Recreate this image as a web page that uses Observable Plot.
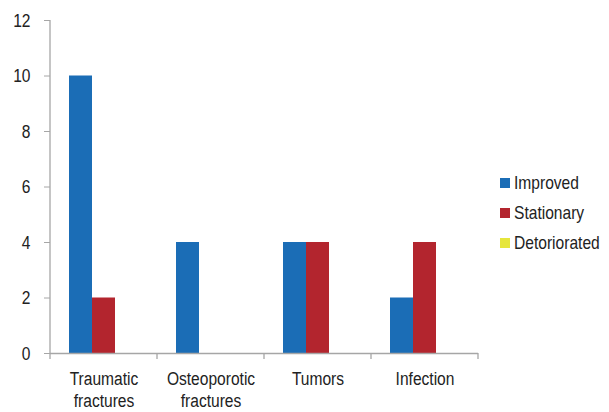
<!DOCTYPE html>
<html><head><meta charset="utf-8">
<script src="https://cdn.jsdelivr.net/npm/d3@7"></script>
<script src="https://cdn.jsdelivr.net/npm/@observablehq/plot@0.6"></script>
<style>
body{margin:0;background:#fff;}
#wrap{position:relative;width:609px;height:412px;font-family:"Liberation Sans",Arial,sans-serif;}
#legend{position:absolute;left:500px;top:168px;font-size:19px;color:#222;}
.item{display:flex;align-items:center;height:30px;}
.sw{width:10px;height:10px;margin-right:4px;}
.item span{display:inline-block;transform:scaleX(0.82);transform-origin:left center;}
</style></head><body><div id="wrap"><div id="legend"></div></div>
<script>
const categories = ["Traumatic fractures","Osteoporotic fractures","Tumors","Infection"];
const series = ["Improved","Stationary","Detoriorated"];
const improved = [10,4,4,2];
const stationary = [2,0,4,4];
const detoriorated = [0,0,0,0];
const colors = ["#1b6db6","#b3252e","#e6e63c"];
const yTicks = [0,2,4,6,8,10,12];

const values = [improved, stationary, detoriorated];
const data = categories.flatMap((c,i)=>series.map((s,j)=>({cat:c, series:s, value:values[j][i]})));
const FONT = '"Liberation Sans",Arial,sans-serif';
const AX = "#a6a6a6";

const plot = Plot.plot({
  width:609, height:412, marginLeft:50, marginRight:131, marginTop:20, marginBottom:59,
  style:{fontFamily:FONT, fontSize:"19px", color:"#222", background:"transparent"},
  fx:{domain:categories, padding:0, label:null, axis:null},
  x:{domain:series, paddingInner:0, paddingOuter:0.76, axis:null},
  y:{domain:[0,12], label:null},
  color:{domain:series, range:colors},
  marks:[
    Plot.barY(data,{fx:"cat",x:"series",y:"value",fill:"series"}),
    Plot.ruleY([0],{stroke:AX, strokeWidth:1.3}),
    Plot.axisY({ticks:yTicks, tickSize:6, tickPadding:14, stroke:AX, fill:"#222", label:null, fontSize:19, className:"yax"}),
    Plot.axisFx({anchor:"bottom", tickSize:0, tickPadding:15, label:null, fill:"#222", fontSize:19, lineHeight:1.2, className:"fxax",
      tickFormat: d=>d.replace(" ","\n")})
  ]
});
document.getElementById("wrap").prepend(plot);

const svg = d3.select(plot);
svg.selectAll(".yax text, .fxax text").attr("transform", function(){
  return (this.getAttribute("transform") || "") + " scale(0.82,1)";
});
const fx = plot.scale("fx"), y = plot.scale("y");
const y0 = y.apply(0), yTop = y.apply(12);
const bounds = categories.map(c=>fx.apply(c)).concat(fx.apply(categories[categories.length-1]) + fx.bandwidth);
const g = svg.append("g").attr("stroke", AX).attr("stroke-width", 1.3);
g.append("line").attr("x1", bounds[0]).attr("x2", bounds[0]).attr("y1", yTop).attr("y2", y0);
bounds.forEach(b=>g.append("line").attr("x1", b).attr("x2", b).attr("y1", y0).attr("y2", y0+6));

const legend = d3.select("#legend");
series.forEach((s,i)=>{
  const it = legend.append("div").attr("class","item");
  it.append("div").attr("class","sw").style("background", colors[i]);
  it.append("span").text(s);
});
</script></body></html>
